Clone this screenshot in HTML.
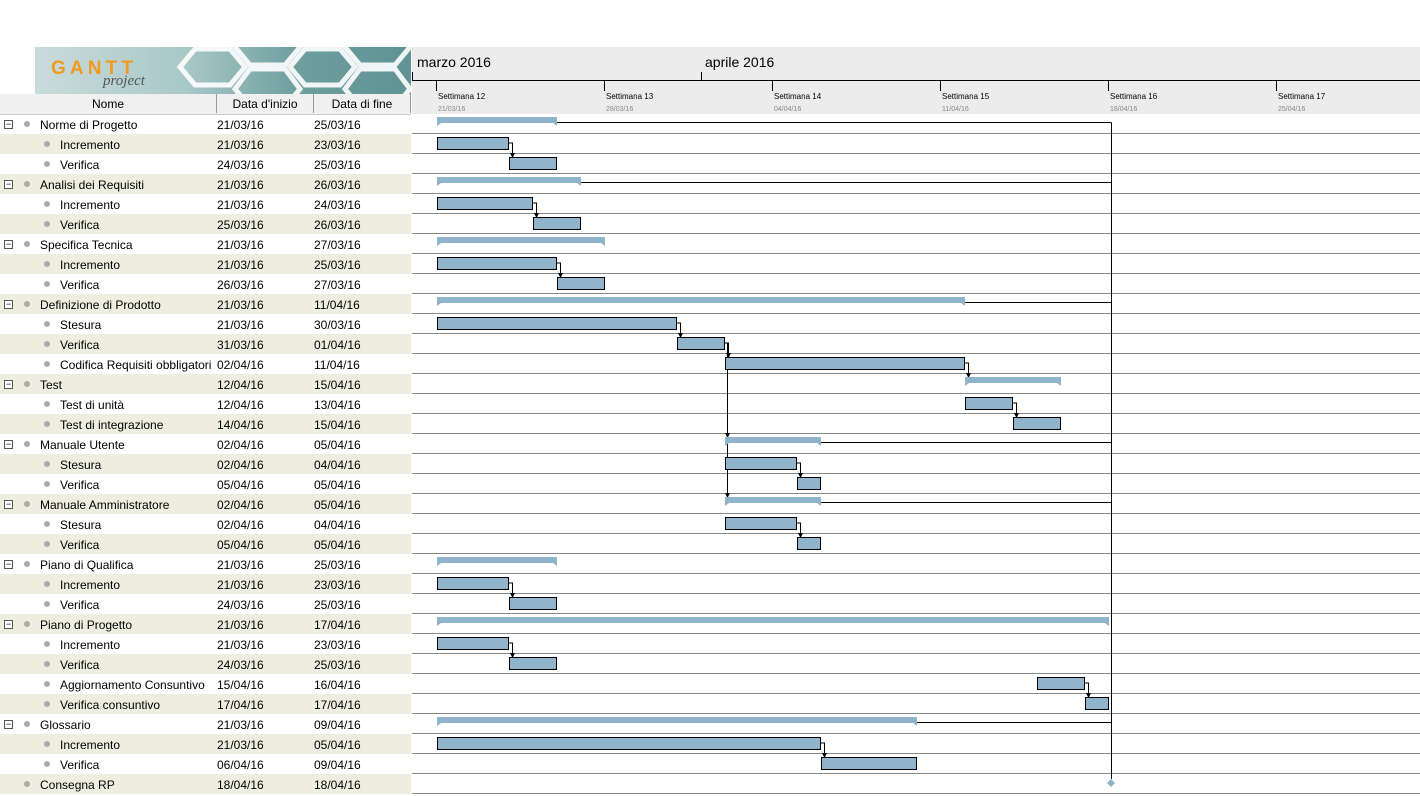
<!DOCTYPE html>
<html><head><meta charset="utf-8"><style>
body{margin:0;width:1420px;height:794px;position:relative;background:#fff;font-family:"Liberation Sans",sans-serif;overflow:hidden}
#logo{position:absolute;left:35px;top:47px;width:376px;height:47px;background:linear-gradient(90deg,#c9dcdb 0%,#a9c8c8 40%,#6e9e9e 70%,#5f9393 100%);overflow:hidden}
#hdr{position:absolute;left:0;top:94px;width:411px;height:20px;background:#f0f0f0;border-bottom:1px solid #ccc;font-size:12px}
#hdr div{position:absolute;top:0;height:19px;line-height:21px;text-align:center;border-right:1px solid #999;box-sizing:border-box}
.row{position:absolute;left:0;width:411px;height:20px;font-size:12px;line-height:22px}
.row.o{background:#eeeee0}
.row span{position:absolute}
.c1{left:217px}.c2{left:314px}
.dot{display:inline-block;width:6px;height:6px;border-radius:3px;background:#aaa;position:absolute;top:7px}
.box{position:absolute;left:4px;top:6px;width:7px;height:7px;border:1px solid #555;font-size:9px;line-height:7px;text-align:center;background:#fff}
</style></head><body>
<div id="logo">
<svg width="376" height="47" style="position:absolute;left:0;top:0">
<g fill="none" stroke="#fff" stroke-width="5" opacity="0.9">
<polygon points="160,2 195,2 210,20 195,38 160,38 145,20"/>
<polygon points="215,-20 250,-20 265,0 250,18 215,18 200,0"/>
<polygon points="215,22 250,22 265,42 250,60 215,60 200,42"/>
<polygon points="270,2 305,2 320,20 305,38 270,38 255,20"/>
<polygon points="325,-20 360,-20 375,0 360,18 325,18 310,0"/>
<polygon points="325,22 360,22 375,42 360,60 325,60 310,42"/>
</g>
<text x="16" y="27" font-family="Liberation Sans" font-size="19" font-weight="bold" fill="#f39a1e" textLength="82">GANTT</text>
<text x="68" y="38" font-family="Liberation Serif" font-style="italic" font-size="15" fill="#555">project</text>
</svg>
</div>
<div id="hdr"><div style="left:0;width:217px">Nome</div><div style="left:217px;width:97px">Data d'inizio</div><div style="left:314px;width:97px">Data di fine</div></div>

<div class="row" style="top:114px"><span class="box">−</span><i class="dot" style="left:24px"></i><span style="left:40px">Norme di Progetto</span><span class="c1">21/03/16</span><span class="c2">25/03/16</span></div>
<div class="row o" style="top:134px"><i class="dot" style="left:44px"></i><span style="left:60px">Incremento</span><span class="c1">21/03/16</span><span class="c2">23/03/16</span></div>
<div class="row" style="top:154px"><i class="dot" style="left:44px"></i><span style="left:60px">Verifica</span><span class="c1">24/03/16</span><span class="c2">25/03/16</span></div>
<div class="row o" style="top:174px"><span class="box">−</span><i class="dot" style="left:24px"></i><span style="left:40px">Analisi dei Requisiti</span><span class="c1">21/03/16</span><span class="c2">26/03/16</span></div>
<div class="row" style="top:194px"><i class="dot" style="left:44px"></i><span style="left:60px">Incremento</span><span class="c1">21/03/16</span><span class="c2">24/03/16</span></div>
<div class="row o" style="top:214px"><i class="dot" style="left:44px"></i><span style="left:60px">Verifica</span><span class="c1">25/03/16</span><span class="c2">26/03/16</span></div>
<div class="row" style="top:234px"><span class="box">−</span><i class="dot" style="left:24px"></i><span style="left:40px">Specifica Tecnica</span><span class="c1">21/03/16</span><span class="c2">27/03/16</span></div>
<div class="row o" style="top:254px"><i class="dot" style="left:44px"></i><span style="left:60px">Incremento</span><span class="c1">21/03/16</span><span class="c2">25/03/16</span></div>
<div class="row" style="top:274px"><i class="dot" style="left:44px"></i><span style="left:60px">Verifica</span><span class="c1">26/03/16</span><span class="c2">27/03/16</span></div>
<div class="row o" style="top:294px"><span class="box">−</span><i class="dot" style="left:24px"></i><span style="left:40px">Definizione di Prodotto</span><span class="c1">21/03/16</span><span class="c2">11/04/16</span></div>
<div class="row" style="top:314px"><i class="dot" style="left:44px"></i><span style="left:60px">Stesura</span><span class="c1">21/03/16</span><span class="c2">30/03/16</span></div>
<div class="row o" style="top:334px"><i class="dot" style="left:44px"></i><span style="left:60px">Verifica</span><span class="c1">31/03/16</span><span class="c2">01/04/16</span></div>
<div class="row" style="top:354px"><i class="dot" style="left:44px"></i><span style="left:60px">Codifica Requisiti obbligatori</span><span class="c1">02/04/16</span><span class="c2">11/04/16</span></div>
<div class="row o" style="top:374px"><span class="box">−</span><i class="dot" style="left:24px"></i><span style="left:40px">Test</span><span class="c1">12/04/16</span><span class="c2">15/04/16</span></div>
<div class="row" style="top:394px"><i class="dot" style="left:44px"></i><span style="left:60px">Test di unità</span><span class="c1">12/04/16</span><span class="c2">13/04/16</span></div>
<div class="row o" style="top:414px"><i class="dot" style="left:44px"></i><span style="left:60px">Test di integrazione</span><span class="c1">14/04/16</span><span class="c2">15/04/16</span></div>
<div class="row" style="top:434px"><span class="box">−</span><i class="dot" style="left:24px"></i><span style="left:40px">Manuale Utente</span><span class="c1">02/04/16</span><span class="c2">05/04/16</span></div>
<div class="row o" style="top:454px"><i class="dot" style="left:44px"></i><span style="left:60px">Stesura</span><span class="c1">02/04/16</span><span class="c2">04/04/16</span></div>
<div class="row" style="top:474px"><i class="dot" style="left:44px"></i><span style="left:60px">Verifica</span><span class="c1">05/04/16</span><span class="c2">05/04/16</span></div>
<div class="row o" style="top:494px"><span class="box">−</span><i class="dot" style="left:24px"></i><span style="left:40px">Manuale Amministratore</span><span class="c1">02/04/16</span><span class="c2">05/04/16</span></div>
<div class="row" style="top:514px"><i class="dot" style="left:44px"></i><span style="left:60px">Stesura</span><span class="c1">02/04/16</span><span class="c2">04/04/16</span></div>
<div class="row o" style="top:534px"><i class="dot" style="left:44px"></i><span style="left:60px">Verifica</span><span class="c1">05/04/16</span><span class="c2">05/04/16</span></div>
<div class="row" style="top:554px"><span class="box">−</span><i class="dot" style="left:24px"></i><span style="left:40px">Piano di Qualifica</span><span class="c1">21/03/16</span><span class="c2">25/03/16</span></div>
<div class="row o" style="top:574px"><i class="dot" style="left:44px"></i><span style="left:60px">Incremento</span><span class="c1">21/03/16</span><span class="c2">23/03/16</span></div>
<div class="row" style="top:594px"><i class="dot" style="left:44px"></i><span style="left:60px">Verifica</span><span class="c1">24/03/16</span><span class="c2">25/03/16</span></div>
<div class="row o" style="top:614px"><span class="box">−</span><i class="dot" style="left:24px"></i><span style="left:40px">Piano di Progetto</span><span class="c1">21/03/16</span><span class="c2">17/04/16</span></div>
<div class="row" style="top:634px"><i class="dot" style="left:44px"></i><span style="left:60px">Incremento</span><span class="c1">21/03/16</span><span class="c2">23/03/16</span></div>
<div class="row o" style="top:654px"><i class="dot" style="left:44px"></i><span style="left:60px">Verifica</span><span class="c1">24/03/16</span><span class="c2">25/03/16</span></div>
<div class="row" style="top:674px"><i class="dot" style="left:44px"></i><span style="left:60px">Aggiornamento Consuntivo</span><span class="c1">15/04/16</span><span class="c2">16/04/16</span></div>
<div class="row o" style="top:694px"><i class="dot" style="left:44px"></i><span style="left:60px">Verifica consuntivo</span><span class="c1">17/04/16</span><span class="c2">17/04/16</span></div>
<div class="row" style="top:714px"><span class="box">−</span><i class="dot" style="left:24px"></i><span style="left:40px">Glossario</span><span class="c1">21/03/16</span><span class="c2">09/04/16</span></div>
<div class="row o" style="top:734px"><i class="dot" style="left:44px"></i><span style="left:60px">Incremento</span><span class="c1">21/03/16</span><span class="c2">05/04/16</span></div>
<div class="row" style="top:754px"><i class="dot" style="left:44px"></i><span style="left:60px">Verifica</span><span class="c1">06/04/16</span><span class="c2">09/04/16</span></div>
<div class="row o" style="top:774px"><i class="dot" style="left:24px"></i><span style="left:40px">Consegna RP</span><span class="c1">18/04/16</span><span class="c2">18/04/16</span></div>

<svg width="1420" height="794" style="position:absolute;left:0;top:0" font-family="Liberation Sans">
<rect x="412" y="47" width="1008" height="67" fill="#ececec"/>
<line x1="412" y1="80.5" x2="1420" y2="80.5" stroke="#000"/>
<line x1="412.5" y1="72" x2="412.5" y2="80" stroke="#000"/>
<line x1="701.5" y1="72" x2="701.5" y2="80" stroke="#000"/>
<text x="417" y="67" font-size="14">marzo 2016</text>
<text x="705" y="67" font-size="14">aprile 2016</text>
<g stroke="#000"><line x1="436.5" y1="80" x2="436.5" y2="91"/><line x1="604.5" y1="80" x2="604.5" y2="91"/><line x1="772.5" y1="80" x2="772.5" y2="91"/><line x1="940.5" y1="80" x2="940.5" y2="91"/><line x1="1108.5" y1="80" x2="1108.5" y2="91"/><line x1="1276.5" y1="80" x2="1276.5" y2="91"/></g>
<g font-size="8"><text x="438" y="99">Settimana 12</text><text x="606" y="99">Settimana 13</text><text x="774" y="99">Settimana 14</text><text x="942" y="99">Settimana 15</text><text x="1110" y="99">Settimana 16</text><text x="1278" y="99">Settimana 17</text></g>
<g font-size="7" fill="#888"><text x="438" y="111">21/03/16</text><text x="606" y="111">28/03/16</text><text x="774" y="111">04/04/16</text><text x="942" y="111">11/04/16</text><text x="1110" y="111">18/04/16</text><text x="1278" y="111">25/04/16</text></g>
<g id="lines" stroke="#888"></g>
<g id="draw"></g>
</svg>
<script>
var ns="http://www.w3.org/2000/svg",L=document.getElementById('lines'),D=document.getElementById('draw');
function el(p,t,a){var e=document.createElementNS(ns,t);for(var k in a)e.setAttribute(k,a[k]);p.appendChild(e);return e}
for(var i=0;i<34;i++){var y=114+20*i+19.5;el(L,'line',{x1:412,y1:y,x2:1420,y2:y});}
function T(r){return 114+20*r}
function sum(r,a,b){var y=T(r);el(D,'polygon',{points:a+','+(y+3)+' '+b+','+(y+3)+' '+b+','+(y+12)+' '+(b-4)+','+(y+9)+' '+(a+4)+','+(y+9)+' '+a+','+(y+12),fill:'#8fb4cc'})}
function bar(r,a,b){var y=T(r);el(D,'rect',{x:a+0.5,y:y+3.5,width:b-a-1,height:12,fill:'#8fb4cc',stroke:'#000'})}
function arr(r1,x,r2){var y=T(r1)+9,y2=T(r2)+3;el(D,'polyline',{points:x+','+(y)+' '+(x+3.5)+','+y+' '+(x+3.5)+','+(y2),fill:'none',stroke:'#000'});el(D,'polygon',{points:(x+1)+','+(y2-4)+' '+(x+6)+','+(y2-4)+' '+(x+3.5)+','+(y2+1),fill:'#000'})}
function hl(r,a){var y=T(r)+8.5;el(D,'line',{x1:a,y1:y,x2:1111.5,y2:y,stroke:'#000'})}
el(D,'line',{x1:1111.5,y1:T(0)+8.5,x2:1111.5,y2:779,stroke:'#000'});
[[0,557],[3,581],[9,965],[16,821],[19,821],[30,917]].forEach(function(a){hl(a[0],a[1])});
el(D,'line',{x1:727.5,y1:T(11)+9,x2:727.5,y2:T(19)+3,stroke:'#000'});
el(D,'polygon',{points:'725,'+(T(16)-1)+' 730,'+(T(16)-1)+' 727.5,'+(T(16)+4),fill:'#000'});
el(D,'polygon',{points:'725,'+(T(19)-1)+' 730,'+(T(19)-1)+' 727.5,'+(T(19)+4),fill:'#000'});
sum(0,437,557);bar(1,437,509);bar(2,509,557);arr(1,509,2);
sum(3,437,581);bar(4,437,533);bar(5,533,581);arr(4,533,5);
sum(6,437,605);bar(7,437,557);bar(8,557,605);arr(7,557,8);
sum(9,437,965);bar(10,437,677);bar(11,677,725);bar(12,725,965);arr(10,677,11);arr(11,725,12);arr(12,965,13);
sum(13,965,1061);bar(14,965,1013);bar(15,1013,1061);arr(14,1013,15);
sum(16,725,821);bar(17,725,797);bar(18,797,821);arr(17,797,18);
sum(19,725,821);bar(20,725,797);bar(21,797,821);arr(20,797,21);
sum(22,437,557);bar(23,437,509);bar(24,509,557);arr(23,509,24);
sum(25,437,1109);bar(26,437,509);bar(27,509,557);arr(26,509,27);bar(28,1037,1085);bar(29,1085,1109);arr(28,1085,29);
sum(30,437,917);bar(31,437,821);bar(32,821,917);arr(31,821,32);
el(D,'polygon',{points:'1111,779 1115,783 1111,787 1107,783',fill:'#8fb4cc'});
</script>
</body></html>
